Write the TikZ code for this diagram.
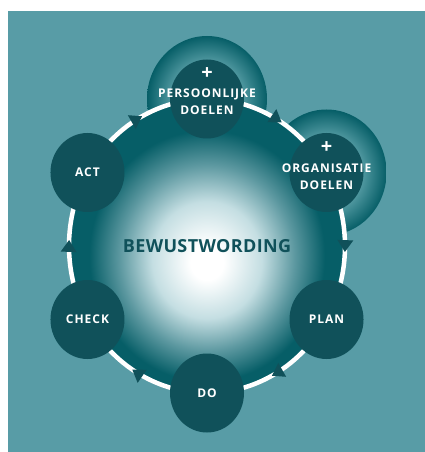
\documentclass[tikz,border=0pt]{standalone}
\usepackage{fontspec}
\usetikzlibrary{arrows.meta,decorations.markings,shapes.geometric,backgrounds}

\newfontfamily\lblfont{Open Sans}[LetterSpace=8]
\newfontfamily\titlefont{Open Sans}[LetterSpace=2]

\definecolor{bgteal}{RGB}{88,156,166}
\definecolor{darkteal}{RGB}{16,81,90}
\definecolor{rimteal}{RGB}{6,94,103}
\definecolor{haloin}{RGB}{80,152,160}
\definecolor{discmid}{RGB}{92,152,160}
\definecolor{disclight}{RGB}{196,222,226}

\pgfdeclareradialshading{haloshade}{\pgfpoint{0bp}{0bp}}{color(0bp)=(haloin); color(15bp)=(haloin); color(25bp)=(rimteal); color(50bp)=(rimteal)}
\pgfdeclareradialshading{discshade}{\pgfpoint{0bp}{-3bp}}{color(0bp)=(white); color(3bp)=(white); color(10bp)=(disclight); color(16bp)=(discmid); color(21.5bp)=(rimteal); color(25bp)=(rimteal); color(50bp)=(rimteal)}

\newcommand{\plussign}{{\fontsize{20}{20}\selectfont +}\\[1.5pt]}

\tikzset{
  sat/.style={ellipse, fill=darkteal, inner sep=0pt, minimum width=74pt, minimum height=79pt,
    text=white, font=\fontsize{12}{17}\selectfont\lblfont\bfseries},
  sattext/.style={align=center, text=white, inner sep=0pt, font=\fontsize{12}{17}\selectfont\lblfont\bfseries},
  ring/.style={draw=white, line width=4.5pt, postaction={decorate},
    decoration={markings, mark=at position .54 with {\arrow{Triangle[width=15pt,length=12pt,color=darkteal]}}}},
}

\begin{document}
\begin{tikzpicture}[x=1pt,y=1pt]
\useasboundingbox (-207,-206) rectangle (218,246);

\node[sat] (pers) at (90:138pt and 147pt) {};
\node[sat] (org) at (30:138pt and 147pt) {};
\node[sat] (plan) at (-30:138pt and 147pt) {PLAN};
\node[sat] (do) at (-90:138pt and 147pt) {DO};
\node[sat] (check) at (-150:138pt and 147pt) {CHECK};
\node[sat] (act) at (150:138pt and 147pt) {ACT};

\node[sattext] (pers-t) at ([yshift=8pt]pers.center) {\plussign PERSOONLIJKE\\DOELEN};
\node[sattext] (org-t) at ([yshift=7pt]org.center) {\plussign ORGANISATIE\\DOELEN};

\node[text=darkteal, font=\fontsize{18}{20}\selectfont\titlefont\bfseries] (title) at (0,0) {BEWUSTWORDING};

\begin{scope}[on background layer]
\fill[bgteal] (-199,-206) rectangle (218,235);
\shade[shading=haloshade] (pers.center) ellipse[x radius=60pt, y radius=63pt];
\shade[shading=haloshade] (org.center) ellipse[x radius=60pt, y radius=63pt];
\shade[shading=discshade] (0,0) ellipse[x radius=137pt, y radius=146pt];
\draw[ring] (pers.center) arc[start angle=90, end angle=30, x radius=138pt, y radius=147pt];
\draw[ring] (org.center) arc[start angle=30, end angle=-30, x radius=138pt, y radius=147pt];
\draw[ring] (plan.center) arc[start angle=-30, end angle=-90, x radius=138pt, y radius=147pt];
\draw[ring] (do.center) arc[start angle=-90, end angle=-150, x radius=138pt, y radius=147pt];
\draw[ring] (check.center) arc[start angle=-150, end angle=-210, x radius=138pt, y radius=147pt];
\draw[ring] (act.center) arc[start angle=150, end angle=90, x radius=138pt, y radius=147pt];
\end{scope}
\end{tikzpicture}
\end{document}
